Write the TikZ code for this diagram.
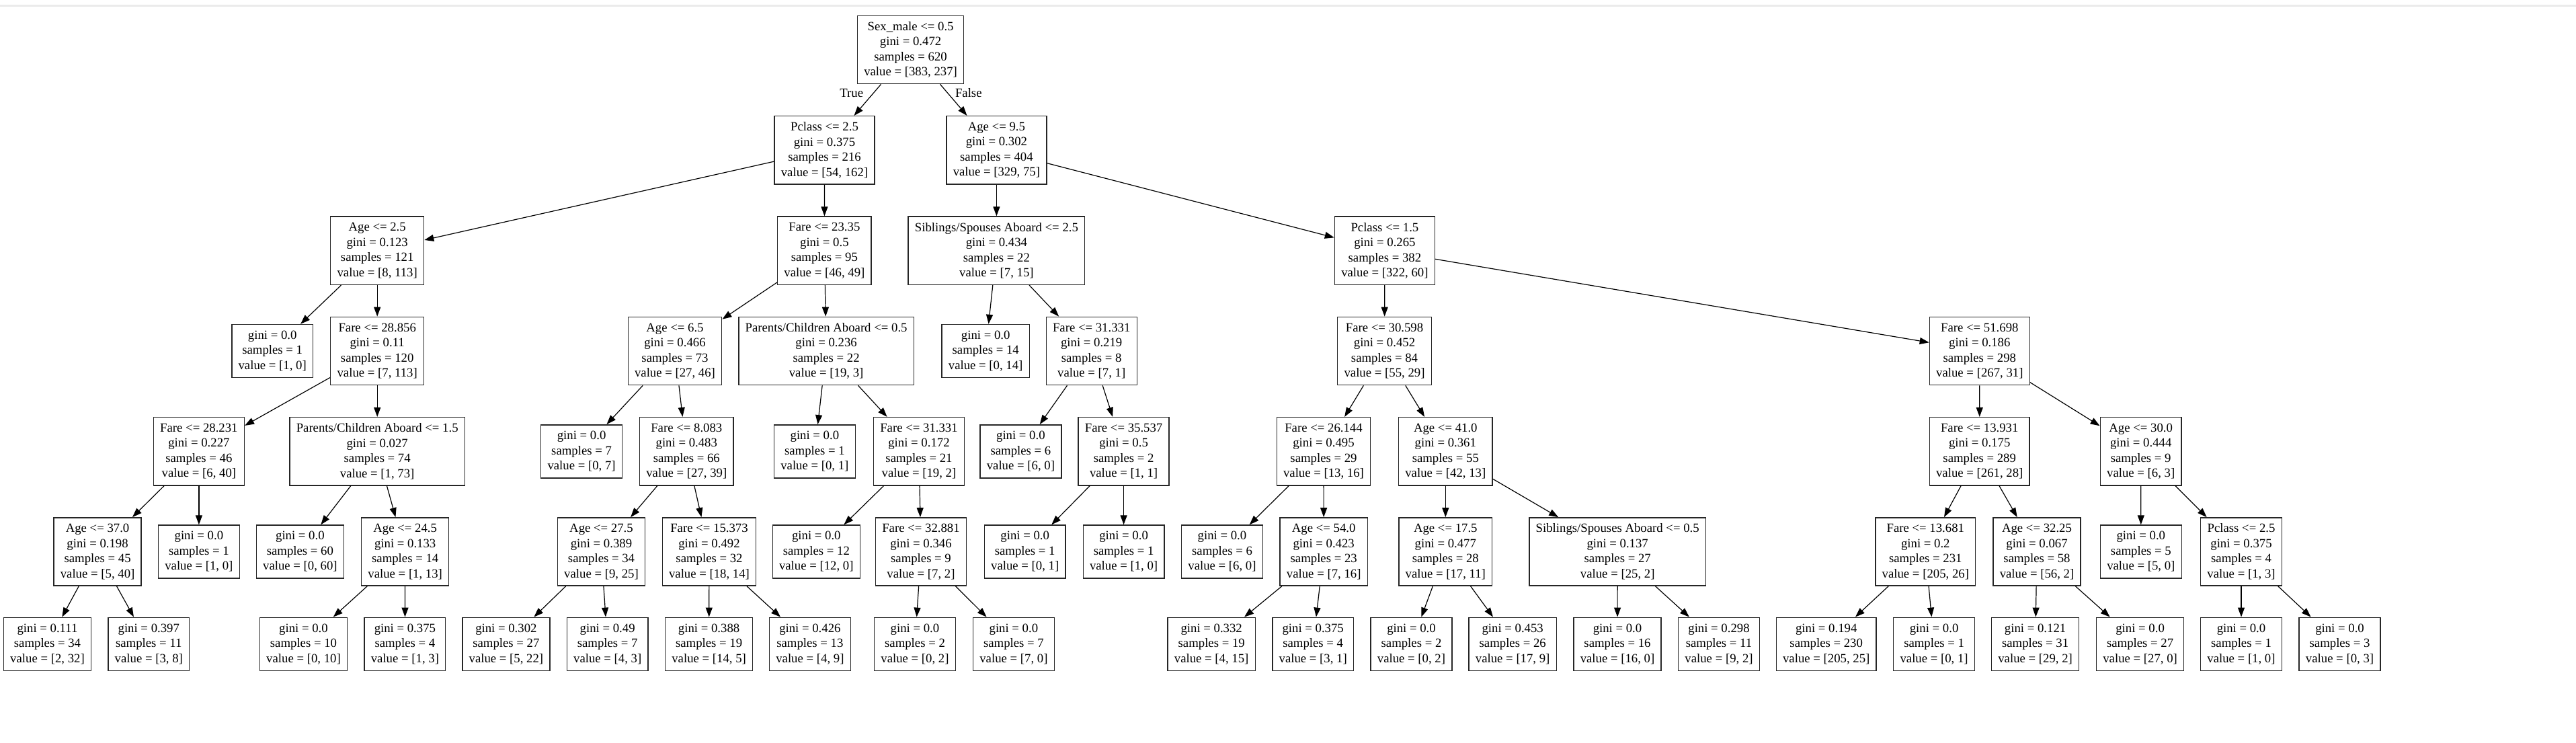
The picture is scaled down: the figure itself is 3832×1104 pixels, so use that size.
\documentclass[tikz,border=0pt]{standalone}
\usepackage{fontspec}
\setmainfont{Liberation Serif}
\usetikzlibrary{arrows.meta}
\tikzset{
  treebox/.style={draw=black!85, line width=0.7pt, inner xsep=4.9pt, inner ysep=0pt, align=center,
    font=\fontsize{9.375}{11.25}\selectfont, fill=white},
  treesplit/.style={treebox, minimum height=50.65pt},
  treeleaf/.style={treebox, minimum height=39.5pt},
  treeedge/.style={draw=black, line width=0.6pt, -{Triangle[length=7pt,width=5pt]}},
  edgelabel/.style={inner sep=0pt, font=\fontsize{9.375}{11.25}\selectfont}
}
\newcommand{\TreeSplit}[7]{\node[treesplit] (#1) at (#2,#3) {#4\\gini = #5\\samples = #6\\value = [#7]};}
\newcommand{\TreeLeaf}[6]{\node[treeleaf] (#1) at (#2,#3) {gini = #4\\samples = #5\\value = [#6]};}
\begin{document}
\begin{tikzpicture}[x=0.5pt,y=-0.5pt]
\useasboundingbox (0,0) rectangle (3832,1104);
\fill[white] (0,0) rectangle (3832,1104);
\draw[black!8, line width=1.4pt] (0,8.5) -- (3832,8.5);
% rank 0
\TreeSplit{root}{1354.6}{74}{Sex\_male <= 0.5}{0.472}{620}{383, 237}
% rank 1
\TreeSplit{n1}{1226.5}{223.3}{Pclass <= 2.5}{0.375}{216}{54, 162}
\TreeSplit{n32}{1482.4}{223.3}{Age <= 9.5}{0.302}{404}{329, 75}
% rank 2
\TreeSplit{n2}{561.2}{372.7}{Age <= 2.5}{0.123}{121}{8, 113}
\TreeSplit{n15}{1226.4}{372.7}{Fare <= 23.35}{0.5}{95}{46, 49}
\TreeSplit{n33}{1482.4}{372.7}{Siblings/Spouses Aboard <= 2.5}{0.434}{22}{7, 15}
\TreeSplit{n40}{2059.9}{372.7}{Pclass <= 1.5}{0.265}{382}{322, 60}
% rank 3
\TreeLeaf{n3}{405.2}{522}{0.0}{1}{1, 0}
\TreeSplit{n4}{561.2}{522}{Fare <= 28.856}{0.11}{120}{7, 113}
\TreeSplit{n16}{1004}{522}{Age <= 6.5}{0.466}{73}{27, 46}
\TreeSplit{n25}{1229.1}{522}{Parents/Children Aboard <= 0.5}{0.236}{22}{19, 3}
\TreeLeaf{n34}{1466.2}{522}{0.0}{14}{0, 14}
\TreeSplit{n35}{1623.7}{522}{Fare <= 31.331}{0.219}{8}{7, 1}
\TreeSplit{n41}{2059.5}{522}{Fare <= 30.598}{0.452}{84}{55, 29}
\TreeSplit{n54}{2944.8}{522}{Fare <= 51.698}{0.186}{298}{267, 31}
% rank 4
\TreeSplit{n5}{295.9}{671.3}{Fare <= 28.231}{0.227}{46}{6, 40}
\TreeSplit{n10}{561.2}{671.3}{Parents/Children Aboard <= 1.5}{0.027}{74}{1, 73}
\TreeLeaf{n17}{865.1}{671.3}{0.0}{7}{0, 7}
\TreeSplit{n18}{1021.3}{671.3}{Fare <= 8.083}{0.483}{66}{27, 39}
\TreeLeaf{n26}{1211.9}{671.3}{0.0}{1}{0, 1}
\TreeSplit{n27}{1367}{671.3}{Fare <= 31.331}{0.172}{21}{19, 2}
\TreeLeaf{n36}{1518.4}{671.3}{0.0}{6}{6, 0}
\TreeSplit{n37}{1671.6}{671.3}{Fare <= 35.537}{0.5}{2}{1, 1}
\TreeSplit{n42}{1969}{671.3}{Fare <= 26.144}{0.495}{29}{13, 16}
\TreeSplit{n47}{2150.3}{671.3}{Age <= 41.0}{0.361}{55}{42, 13}
\TreeSplit{n55}{2944.7}{671.3}{Fare <= 13.931}{0.175}{289}{261, 28}
\TreeSplit{n62}{3184.7}{671.3}{Age <= 30.0}{0.444}{9}{6, 3}
% rank 5
\TreeSplit{n6}{145.1}{820.5}{Age <= 37.0}{0.198}{45}{5, 40}
\TreeLeaf{n9}{295.9}{820.5}{0.0}{1}{1, 0}
\TreeLeaf{n11}{446.4}{820.5}{0.0}{60}{0, 60}
\TreeSplit{n12}{602.7}{820.5}{Age <= 24.5}{0.133}{14}{1, 13}
\TreeSplit{n19}{894.5}{820.5}{Age <= 27.5}{0.389}{34}{9, 25}
\TreeSplit{n22}{1055}{820.5}{Fare <= 15.373}{0.492}{32}{18, 14}
\TreeLeaf{n28}{1214.3}{820.5}{0.0}{12}{12, 0}
\TreeSplit{n29}{1370}{820.5}{Fare <= 32.881}{0.346}{9}{7, 2}
\TreeLeaf{n38}{1524.7}{820.5}{0.0}{1}{0, 1}
\TreeLeaf{n39}{1671.6}{820.5}{0.0}{1}{1, 0}
\TreeLeaf{n43}{1818}{820.5}{0.0}{6}{6, 0}
\TreeSplit{n44}{1969.2}{820.5}{Age <= 54.0}{0.423}{23}{7, 16}
\TreeSplit{n48}{2150.3}{820.5}{Age <= 17.5}{0.477}{28}{17, 11}
\TreeSplit{n51}{2406.2}{820.5}{Siblings/Spouses Aboard <= 0.5}{0.137}{27}{25, 2}
\TreeSplit{n56}{2864.3}{820.5}{Fare <= 13.681}{0.2}{231}{205, 26}
\TreeSplit{n59}{3030}{820.5}{Age <= 32.25}{0.067}{58}{56, 2}
\TreeLeaf{n63}{3184.8}{820.5}{0.0}{5}{5, 0}
\TreeSplit{n64}{3334}{820.5}{Pclass <= 2.5}{0.375}{4}{1, 3}
% rank 6
\TreeLeaf{n7}{70.5}{957.8}{0.111}{34}{2, 32}
\TreeLeaf{n8}{221.3}{957.8}{0.397}{11}{3, 8}
\TreeLeaf{n13}{451.5}{957.8}{0.0}{10}{0, 10}
\TreeLeaf{n14}{602.4}{957.8}{0.375}{4}{1, 3}
\TreeLeaf{n20}{752.9}{957.8}{0.302}{27}{5, 22}
\TreeLeaf{n21}{903.7}{957.8}{0.49}{7}{4, 3}
\TreeLeaf{n23}{1054.6}{957.8}{0.388}{19}{14, 5}
\TreeLeaf{n24}{1204.9}{957.8}{0.426}{13}{4, 9}
\TreeLeaf{n30}{1361}{957.8}{0.0}{2}{0, 2}
\TreeLeaf{n31}{1507.9}{957.8}{0.0}{7}{7, 0}
\TreeLeaf{n45}{1802.2}{957.8}{0.332}{19}{4, 15}
\TreeLeaf{n46}{1953.2}{957.8}{0.375}{4}{3, 1}
\TreeLeaf{n49}{2099.5}{957.8}{0.0}{2}{0, 2}
\TreeLeaf{n50}{2250.2}{957.8}{0.453}{26}{17, 9}
\TreeLeaf{n52}{2406}{957.8}{0.0}{16}{16, 0}
\TreeLeaf{n53}{2557}{957.8}{0.298}{11}{9, 2}
\TreeLeaf{n57}{2716.7}{957.8}{0.194}{230}{205, 25}
\TreeLeaf{n58}{2877.1}{957.8}{0.0}{1}{0, 1}
\TreeLeaf{n60}{3027.6}{957.8}{0.121}{31}{29, 2}
\TreeLeaf{n61}{3183.6}{957.8}{0.0}{27}{27, 0}
\TreeLeaf{n65}{3334}{957.8}{0.0}{1}{1, 0}
\TreeLeaf{n66}{3480.5}{957.8}{0.0}{3}{0, 3}
% labels
\node[edgelabel] (lTrue) at (1266.8,138) {True};
\node[edgelabel] (lFalse) at (1440.8,138) {False};
% edges
\foreach \a/\b in {root/n1, root/n32, n1/n2, n1/n15, n2/n3, n2/n4, n4/n5, n4/n10,
  n5/n6, n5/n9, n6/n7, n6/n8, n10/n11, n10/n12, n12/n13, n12/n14,
  n15/n16, n15/n25, n16/n17, n16/n18, n18/n19, n18/n22, n19/n20, n19/n21,
  n22/n23, n22/n24, n25/n26, n25/n27, n27/n28, n27/n29, n29/n30, n29/n31,
  n32/n33, n32/n40, n33/n34, n33/n35, n35/n36, n35/n37, n37/n38, n37/n39,
  n40/n41, n40/n54, n41/n42, n41/n47, n42/n43, n42/n44, n44/n45, n44/n46,
  n47/n48, n47/n51, n48/n49, n48/n50, n51/n52, n51/n53,
  n54/n55, n54/n62, n55/n56, n55/n59, n56/n57, n56/n58, n59/n60, n59/n61,
  n62/n63, n62/n64, n64/n65, n64/n66}
  \draw[treeedge] (\a) -- (\b);
\end{tikzpicture}
\end{document}
